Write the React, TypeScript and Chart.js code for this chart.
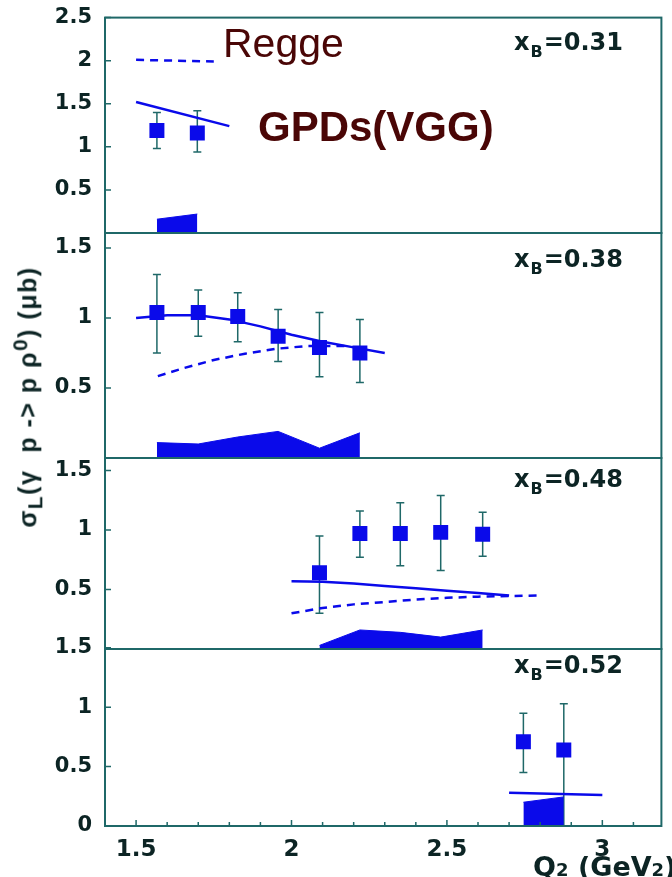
import React, { useEffect, useRef } from "react";
import { Chart, registerables } from "chart.js";

Chart.register(...registerables);

// ---------- shared axis ----------
const X_MIN = 1.4;
const X_MAX = 3.19;
const xTickValues = [1.5, 2, 2.5, 3];

// ---------- xB = 0.31 ----------
const q2_031 = [1.567, 1.697];
const sigma_031 = [1.19, 1.16];
const errHigh_031 = [1.4, 1.42];
const errLow_031 = [0.98, 0.94];
const gpdQ2_031 = [1.5, 1.8];
const gpd_031 = [1.52, 1.24];
const reggeQ2_031 = [1.5, 1.75];
const regge_031 = [2.01, 1.99];
const sysQ2_031 = [1.567, 1.697];
const sys_031 = [0.16, 0.22];
const yTicks_031 = [0.5, 1, 1.5, 2, 2.5];

// ---------- xB = 0.38 ----------
const q2_038 = [1.567, 1.7, 1.827, 1.957, 2.09, 2.22];
const sigma_038 = [1.04, 1.04, 1.01, 0.87, 0.79, 0.75];
const errHigh_038 = [1.31, 1.2, 1.18, 1.06, 1.04, 0.99];
const errLow_038 = [0.75, 0.87, 0.83, 0.69, 0.58, 0.54];
const gpdQ2_038 = [1.5, 1.6, 1.7, 1.8, 1.9, 2.0, 2.1, 2.2, 2.3];
const gpd_038 = [1.0, 1.02, 1.02, 0.99, 0.94, 0.88, 0.83, 0.79, 0.75];
const reggeQ2_038 = [1.57, 1.65, 1.75, 1.85, 1.95, 2.05, 2.18];
const regge_038 = [0.585, 0.64, 0.7, 0.745, 0.78, 0.8, 0.8];
const sysQ2_038 = [1.567, 1.7, 1.827, 1.957, 2.09, 2.22];
const sys_038 = [0.11, 0.1, 0.15, 0.19, 0.07, 0.18];
const yTicks_038 = [0.5, 1, 1.5];

// ---------- xB = 0.48 ----------
const q2_048 = [2.09, 2.22, 2.35, 2.48, 2.615];
const sigma_048 = [0.64, 0.97, 0.97, 0.98, 0.965];
const errHigh_048 = [0.95, 1.16, 1.23, 1.29, 1.15];
const errLow_048 = [0.3, 0.77, 0.7, 0.66, 0.78];
const gpdQ2_048 = [2.0, 2.1, 2.2, 2.3, 2.4, 2.5, 2.6, 2.7];
const gpd_048 = [0.57, 0.565, 0.55, 0.53, 0.51, 0.49, 0.47, 0.45];
const reggeQ2_048 = [2.0, 2.1, 2.2, 2.3, 2.4, 2.5, 2.6, 2.7, 2.8];
const regge_048 = [0.3, 0.345, 0.375, 0.395, 0.415, 0.43, 0.44, 0.445, 0.45];
const sysQ2_048 = [2.09, 2.22, 2.35, 2.48, 2.615];
const sys_048 = [0.03, 0.16, 0.14, 0.1, 0.16];
const yTicks_048 = [0.5, 1, 1.5];

// ---------- xB = 0.52 ----------
const q2_052 = [2.746, 2.876];
const sigma_052 = [0.71, 0.64];
const errHigh_052 = [0.95, 1.03];
const errLow_052 = [0.45, 0.0];
const gpdQ2_052 = [2.7, 3.0];
const gpd_052 = [0.28, 0.26];
const reggeQ2_052: number[] = [];
const regge_052: number[] = [];
const sysQ2_052 = [2.746, 2.876];
const sys_052 = [0.2, 0.245];
const yTicks_052 = [0, 0.5, 1, 1.5];

// ---------- colours ----------
const BLUE = "#0a0aea";
const FRAME = "#1f6868";
const INK = "#0c2424";
const MAROON = "#4a0606";

const panels = [
  { xb: "0.31", top: 17, bottom: 233, yMax: 2.5, labelBaseline: 50, showX: false, annot: true,
    q2: q2_031, sig: sigma_031, hi: errHigh_031, lo: errLow_031, gpdQ2: gpdQ2_031, gpd: gpd_031,
    reggeQ2: reggeQ2_031, regge: regge_031, sysQ2: sysQ2_031, sys: sys_031, yTicks: yTicks_031 },
  { xb: "0.38", top: 233, bottom: 458, yMax: 1.607, labelBaseline: 267, showX: false, annot: false,
    q2: q2_038, sig: sigma_038, hi: errHigh_038, lo: errLow_038, gpdQ2: gpdQ2_038, gpd: gpd_038,
    reggeQ2: reggeQ2_038, regge: regge_038, sysQ2: sysQ2_038, sys: sys_038, yTicks: yTicks_038 },
  { xb: "0.48", top: 458, bottom: 649, yMax: 1.605, labelBaseline: 487, showX: false, annot: false,
    q2: q2_048, sig: sigma_048, hi: errHigh_048, lo: errLow_048, gpdQ2: gpdQ2_048, gpd: gpd_048,
    reggeQ2: reggeQ2_048, regge: regge_048, sysQ2: sysQ2_048, sys: sys_048, yTicks: yTicks_048 },
  { xb: "0.52", top: 649, bottom: 826, yMax: 1.49, labelBaseline: 673, showX: true, annot: false,
    q2: q2_052, sig: sigma_052, hi: errHigh_052, lo: errLow_052, gpdQ2: gpdQ2_052, gpd: gpd_052,
    reggeQ2: reggeQ2_052, regge: regge_052, sysQ2: sysQ2_052, sys: sys_052, yTicks: yTicks_052 },
];

const toXY = (xs: number[], ys: number[]) => xs.map((x, i) => ({ x, y: ys[i] }));

function Panel({ p }: { p: any }) {
  const ref = useRef<HTMLCanvasElement>(null);
  const pad = Math.min(20, p.top);
  const canvasTop = p.top - pad;
  const canvasH = p.showX ? 877 - canvasTop : p.bottom - canvasTop + 20;

  useEffect(() => {
    if (!ref.current) return;
    const errPlugin = {
      id: "errbars",
      beforeDatasetsDraw(chart: any) {
        const { ctx, scales } = chart;
        const x = scales.x, y = scales.y;
        ctx.save();
        ctx.strokeStyle = FRAME;
        ctx.lineWidth = 1.5;
        p.q2.forEach((q: number, i: number) => {
          const px = x.getPixelForValue(q);
          const yh = y.getPixelForValue(p.hi[i]);
          const yl = y.getPixelForValue(p.lo[i]);
          ctx.beginPath();
          ctx.moveTo(px, yh); ctx.lineTo(px, yl);
          ctx.moveTo(px - 4, yh); ctx.lineTo(px + 4, yh);
          ctx.moveTo(px - 4, yl); ctx.lineTo(px + 4, yl);
          ctx.stroke();
        });
        ctx.restore();
      },
    };
    const framePlugin = {
      id: "frame",
      afterDatasetsDraw(chart: any) {
        const { ctx, chartArea: a, scales } = chart;
        const x = scales.x, y = scales.y;
        ctx.save();
        ctx.strokeStyle = FRAME;
        ctx.lineWidth = 2;
        ctx.strokeRect(a.left, a.top, a.right - a.left, a.bottom - a.top);
        ctx.lineWidth = 1.5;
        ctx.beginPath();
        p.yTicks.forEach((v: number) => {
          const py = y.getPixelForValue(v);
          ctx.moveTo(a.left, py);
          ctx.lineTo(a.left + 6, py);
        });
        if (p.showX) {
          for (let k = 15; k <= 31; k++) {
            const px = x.getPixelForValue(k / 10);
            const len = k % 5 === 0 ? 6 : 4;
            ctx.moveTo(px, a.bottom);
            ctx.lineTo(px, a.bottom - len);
          }
        }
        ctx.stroke();
        ctx.restore();
      },
      afterDraw(chart: any) {
        const { ctx } = chart;
        ctx.save();
        ctx.fillStyle = INK;
        ctx.textBaseline = "alphabetic";
        ctx.textAlign = "left";
        const by = p.labelBaseline - canvasTop;
        let cx = 514;
        ctx.font = "bold 24px 'DejaVu Sans'";
        ctx.fillText("x", cx, by);
        cx += ctx.measureText("x").width + 1;
        ctx.font = "bold 16px 'DejaVu Sans'";
        ctx.fillText("B", cx, by + 7);
        cx += ctx.measureText("B").width + 1;
        ctx.font = "bold 24px 'DejaVu Sans'";
        ctx.fillText("=" + p.xb, cx, by);

        if (p.annot) {
          ctx.fillStyle = MAROON;
          ctx.font = "41px 'Liberation Sans'";
          ctx.fillText("Regge", 223, 57 - canvasTop);
          ctx.font = "bold 42px 'Liberation Sans'";
          ctx.fillText("GPDs(VGG)", 258, 141 - canvasTop);
        }
        if (p.showX) {
          ctx.fillStyle = INK;
          let qx = 533;
          const qb = 876 - canvasTop;
          const parts: [string, number][] = [["Q", 27], ["2", 18], [" (GeV", 27], ["2", 18], [")", 27]];
          parts.forEach(([t, s]) => {
            ctx.font = `bold ${s}px 'DejaVu Sans'`;
            ctx.fillText(t, qx, qb);
            qx += ctx.measureText(t).width;
          });
        }
        ctx.restore();
      },
    };

    const datasets: any[] = [
      {
        label: "data",
        data: toXY(p.q2, p.sig),
        showLine: false,
        pointStyle: "rect",
        pointRadius: 10.6,
        pointBackgroundColor: BLUE,
        pointBorderWidth: 0,
        borderColor: BLUE,
        order: 0,
      },
      {
        label: "GPDs(VGG)",
        data: toXY(p.gpdQ2, p.gpd),
        borderColor: BLUE,
        borderWidth: 2.5,
        pointRadius: 0,
        fill: false,
        tension: 0,
        order: 1,
      },
    ];
    if (p.reggeQ2.length) {
      datasets.push({
        label: "Regge",
        data: toXY(p.reggeQ2, p.regge),
        borderColor: BLUE,
        borderWidth: 2.5,
        borderDash: [8, 6],
        pointRadius: 0,
        fill: false,
        tension: 0,
        order: 2,
      });
    }
    datasets.push({
      label: "syst",
      data: toXY(p.sysQ2, p.sys),
      borderColor: BLUE,
      borderWidth: 1,
      backgroundColor: BLUE,
      pointRadius: 0,
      fill: "origin",
      tension: 0,
      order: 3,
    });

    const chart = new Chart(ref.current, {
      type: "line",
      data: { datasets },
      options: {
        animation: false,
        responsive: false,
        devicePixelRatio: 1,
        layout: { padding: { left: 0, right: 3, top: pad, bottom: p.showX ? 0 : 20 } },
        plugins: { legend: { display: false }, tooltip: { enabled: false } },
        scales: {
          x: {
            type: "linear",
            min: X_MIN,
            max: X_MAX,
            display: p.showX,
            grid: { display: false },
            border: { display: false },
            afterBuildTicks: (s: any) => { s.ticks = xTickValues.map((v) => ({ value: v })); },
            afterFit: (s: any) => { s.height = p.showX ? 51 : 0; },
            ticks: {
              autoSkip: false,
              maxRotation: 0,
              padding: 2,
              color: INK,
              font: { family: "'DejaVu Sans'", weight: "bold", size: 23 },
              callback: (v: any) => String(v),
            },
          },
          y: {
            type: "linear",
            min: 0,
            max: p.yMax,
            grid: { display: false },
            border: { display: false },
            afterBuildTicks: (s: any) => { s.ticks = p.yTicks.map((v: number) => ({ value: v })); },
            afterFit: (s: any) => { s.width = 105; },
            ticks: {
              padding: 5,
              color: INK,
              font: { family: "'DejaVu Sans'", weight: "bold", size: 21 },
              callback: (v: any) => String(v),
            },
          },
        },
      } as any,
      plugins: [errPlugin, framePlugin],
    });
    return () => chart.destroy();
  }, []);

  return (
    <canvas
      ref={ref}
      width={672}
      height={canvasH}
      style={{ position: "absolute", left: 0, top: canvasTop, width: 672, height: canvasH }}
    />
  );
}

export default function App() {
  return (
    <div style={{ position: "absolute", left: 0, top: 0, width: 672, height: 877, background: "#fff", overflow: "hidden" }}>
      {panels.map((p) => (
        <Panel key={p.xb} p={p} />
      ))}
      <div
        style={{
          position: "absolute",
          left: 28,
          top: 397,
          transform: "translate(-50%,-50%) rotate(-90deg)",
          whiteSpace: "nowrap",
          font: "bold 25px 'Liberation Sans', Arial, sans-serif",
          letterSpacing: "1.5px",
          color: INK,
        }}
      >
        σ<sub>L</sub>(γ&nbsp;&nbsp;p -&gt; p ρ<sup>0</sup>) (μb)
      </div>
    </div>
  );
}
